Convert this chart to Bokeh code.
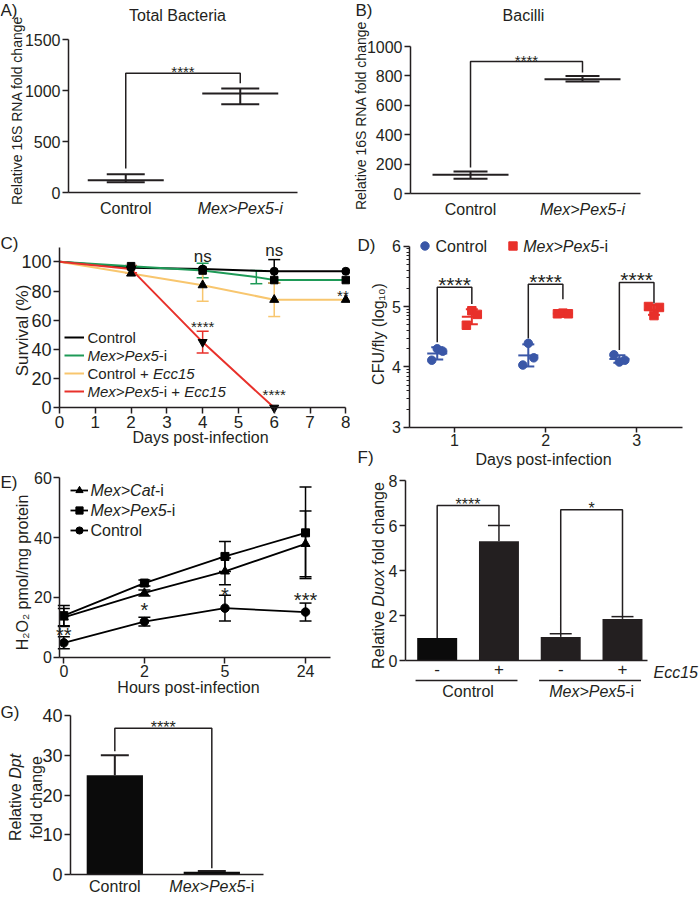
import math
import numpy as np
from bokeh.plotting import figure
from bokeh.models import (Range1d, FixedTicker, Label, Whisker, TeeHead, ColumnDataSource,
                          Legend, LegendItem)
from bokeh.layouts import row, column
from bokeh.core.properties import value
from bokeh.embed import file_html
from bokeh.resources import INLINE

# ---------------- data ----------------
a_groups = ["Control", "Mex>Pex5-i"]
a_mean = [120, 970]
a_upper = [180, 1020]
a_lower = [100, 865]
a_sig = [235, 1170, 1070]          # left end, bracket level, right end

b_groups = ["Control", "Mex>Pex5-i"]
b_mean = [127, 778]
b_upper = [150, 800]
b_lower = [100, 762]
b_sig = [177, 898, 823]

c_days = [0, 2, 4, 6, 8]
c_control = [100, 96, 95, 93.5, 93.5]
c_control_err = [0, 0, 0, 8, 0]
c_pex_days = [0, 2, 4, 5.5, 6, 8]
c_pex = [100, 97, 94, 89.5, 87.5, 87.5]
c_pex_err = [0, 0, 5, 4.5, 0, 0]
c_ecc_ctrl = [100, 92, 84, 74, 74]
c_ecc_ctrl_err = [0, 0, 11, 11.5, 0]
c_ecc_pex_days = [0, 2, 4, 6]
c_ecc_pex = [100, 95, 45, 0]
c_ecc_pex_err = [0, 2.5, 7.5, 0]
c_notes = ["ns", "ns", "**", "****", "****"]
c_note_x = [4, 6, 7.92, 4, 6]
c_note_y = [103.5, 107.5, 79.5, 58, 11.5]

d_days = [1, 2, 3]
d_control = [[4.11, 4.30, 4.26], [4.03, 4.39, 4.15], [4.20, 4.08, 4.11]]
d_pex = [[4.69, 4.93, 4.87], [4.88, 4.89, 4.88], [5.00, 4.85, 4.985]]
d_sig_top = [5.32, 5.37, 5.40]
d_sig_left = [4.41, 4.47, 4.28]
d_sig_right = [5.04, 5.12, 5.05]

e_hours = ["0", "2", "5", "24"]
e_cat = [13.3, 21.5, 28.7, 37.9]
e_cat_err = [3.0, 1.0, 4.5, 11.0]
e_pex = [13.9, 24.8, 33.7, 41.6]
e_pex_err = [3.4, 1.0, 5.0, 15.3]
e_control = [4.8, 11.9, 16.4, 15.1]
e_control_err = [2.0, 1.5, 4.3, 3.0]
e_sig = ["**", "*", "*", "***"]
e_sig_y = [8.9, 17.3, 22.3, 20.6]

f_groups = ["Control", "Mex>Pex5-i"]
f_ecc = ["-", "+", "-", "+"]
f_vals = [1.0, 5.3, 1.05, 1.85]
f_err = [0.0, 0.7, 0.14, 0.1]
f_sig = ["****", "*"]
f_sig_top = [6.89, 6.7]
f_sig_left = [1.0, 1.19]
f_sig_right = [6.0, 1.95]

g_groups = ["Control", "Mex>Pex5-i"]
g_vals = [25.0, 0.7]
g_err = [5.0, 0.15]
g_sig = ["****"]
g_sig_top = [36.8]
g_sig_left = [31.0]
g_sig_right = [1.6]

# ---------------- style helpers ----------------
FONT = "Liberation Sans"
INK = "#231F20"
CW = {' ': 278, '(': 333, ')': 333, '*': 389, '+': 584, '-': 333, '/': 278, '>': 584, '%': 889,
      'A': 667, 'B': 667, 'C': 722, 'D': 722, 'E': 667, 'F': 611, 'H': 722, 'M': 833, 'N': 722,
      'O': 778, 'P': 667, 'R': 722, 'S': 667, 'T': 611, 'U': 722,
      'a': 556, 'c': 500, 'd': 556, 'e': 556, 'f': 278, 'g': 556, 'h': 556, 'i': 222, 'l': 222,
      'm': 833, 'n': 556, 'o': 556, 'p': 556, 'r': 333, 's': 500, 't': 278, 'u': 556, 'v': 500,
      'x': 500, 'y': 500}


def tw(s, size):
    return sum(CW.get(ch, 556) for ch in s) * size / 1000.0


class Panel:
    """A figure whose frame fills the whole canvas; axes are pinned with fixed_location."""

    def __init__(self, fig_box, axis_box, xd, yd):
        X, Y, W, H = fig_box
        l, t, r, b = axis_box
        self.X, self.Y, self.W, self.H = X, Y, W, H
        self.l, self.t = l, t
        self.xd, self.yd = xd, yd
        self.sx = (r - l) / (xd[1] - xd[0])
        self.sy = (b - t) / (yd[1] - yd[0])
        x0 = xd[0] - (l - X) / self.sx
        x1 = xd[1] + (X + W - r) / self.sx
        y1 = yd[1] + (t - Y) / self.sy
        y0 = yd[0] - (Y + H - b) / self.sy
        p = figure(width=W, height=H, x_range=Range1d(x0, x1), y_range=Range1d(y0, y1),
                   min_border=0, min_border_left=0, min_border_right=0,
                   min_border_top=0, min_border_bottom=0,
                   output_backend="svg", toolbar_location=None, tools="")
        p.xgrid.visible = False
        p.ygrid.visible = False
        p.outline_line_color = None
        p.background_fill_color = "white"
        p.border_fill_color = "white"
        p.xaxis[0].fixed_location = yd[0]
        p.xaxis[0].bounds = xd
        p.yaxis[0].fixed_location = xd[0]
        p.yaxis[0].bounds = yd
        self.p = p

    def to_data(self, px, py):
        return self.xd[0] + (px - self.l) / self.sx, self.yd[1] - (py - self.t) / self.sy

    def to_px(self, x, y):
        return self.l + (x - self.xd[0]) * self.sx, self.t + (self.yd[1] - y) * self.sy

    def legend_loc(self, left_px, bottom_px):
        return (left_px - self.X, self.Y + self.H - bottom_px)

    def text(self, s, px, py, size, align="center", italic=False, angle=0.0, color=INK):
        x, y = self.to_data(px, py)
        self.p.add_layout(Label(x=x, y=y, text=s, text_font=FONT, text_font_size=f"{size}px",
                                text_font_style="italic" if italic else "normal",
                                text_align=align, text_baseline="middle", angle=angle,
                                text_color=color))

    def rich(self, segs, px, py, size, align="left", vertical=False):
        total = sum(tw(t, size) for t, _ in segs)
        pos = -total / 2 if align == "center" else 0.0
        for t, it in segs:
            lead = tw(t[:len(t) - len(t.lstrip())], size)
            s = t.strip()
            if s:
                if vertical:
                    self.text(s, px, py - (pos + lead), size, "left", it, math.pi / 2)
                else:
                    self.text(s, px + pos + lead, py, size, "left", it)
            pos += tw(t, size)

    def note(self, s, x, y, size):
        px, py = self.to_px(x, y)
        if s.startswith("*"):
            py += 0.24 * size
        self.text(s, px, py, size)

    def stars_above(self, s, x, y, size, gap):
        px, py = self.to_px(x, y)
        self.text(s, px, py - gap + 0.24 * size, size)

    def xpx(self, x):
        return self.to_px(x, self.yd[0])[0]


def style_axis(ax, size=16, ticks=None, tick_out=6, overrides=None, minor=None):
    ax.axis_line_color = INK
    ax.axis_line_width = 1.5
    ax.major_tick_line_color = INK
    ax.major_tick_line_width = 1.5
    ax.major_tick_in = 0
    ax.major_tick_out = tick_out
    ax.major_label_text_font = FONT
    ax.major_label_text_font_size = f"{size}px"
    ax.major_label_text_color = INK
    ax.major_label_standoff = 2
    if ticks is not None:
        ax.ticker = FixedTicker(ticks=ticks, minor_ticks=minor or [])
    if minor:
        ax.minor_tick_line_color = INK
        ax.minor_tick_in = 0
        ax.minor_tick_out = 3
        ax.minor_tick_line_width = 1
    else:
        ax.minor_tick_line_color = None
    if overrides:
        ax.major_label_overrides = overrides


def bracket(p, x0, x1, left, top, right, width=1.5):
    p.line([x0, x0, x1, x1], [left, top, top, right], line_color=INK, line_width=width)


def icon_legend(p, items, loc, gw, gh):
    p.add_layout(Legend(items=items, location=loc, orientation="vertical",
                        glyph_width=gw, glyph_height=gh, label_width=0, label_height=gh,
                        label_standoff=0, spacing=0, padding=0, margin=0,
                        border_line_color=None, background_fill_alpha=0,
                        label_text_font_size="1px"))


def mean_err_panel(P, groups, mean, upper, lower, sig, cap, yticks, title, letter,
                   ytitle, title_xy, letter_xy, ytitle_xy, xlab_y):
    p = P.p
    style_axis(p.xaxis[0], ticks=[], tick_out=0)
    style_axis(p.yaxis[0], size=16, ticks=yticks)
    xs = list(range(len(groups)))
    src = ColumnDataSource(dict(x=xs, m=mean, u=upper, lo=lower))
    bracket(p, xs[0], xs[1], sig[0], sig[1], sig[2])
    p.add_layout(Whisker(source=src, base="x", upper="u", lower="lo", line_color=INK, line_width=2,
                         upper_head=TeeHead(size=cap, line_color=INK, line_width=2),
                         lower_head=TeeHead(size=cap, line_color=INK, line_width=2)))
    p.scatter("x", "m", source=src, marker="dash", size=76, line_color=INK, line_width=2)
    P.stars_above("****", (xs[0] + xs[1]) / 2, sig[1], 15, 5)
    P.text(title, title_xy[0], title_xy[1], 16)
    P.text(letter, letter_xy[0], letter_xy[1], 17, align="left")
    P.text(ytitle, ytitle_xy[0], ytitle_xy[1], 14, angle=math.pi / 2)
    P.text(groups[0], P.xpx(xs[0]), xlab_y, 16)
    P.text(groups[1], P.xpx(xs[1]), xlab_y, 16, italic=True)


# ---------------- Panel A ----------------
A = Panel((0, 0, 350, 222), (68, 39, 297, 192), (-0.5, 1.5), (0, 1500))
mean_err_panel(A, a_groups, a_mean, a_upper, a_lower, a_sig, 38, [0, 500, 1000, 1500],
               "Total Bacteria", "A)", "Relative 16S RNA fold change",
               (177, 15), (0, 10), (16, 110), 208)

# ---------------- Panel B ----------------
B = Panel((350, 0, 350, 222), (410, 46, 640, 193), (-0.536, 1.518), (0, 1000))
mean_err_panel(B, b_groups, b_mean, b_upper, b_lower, b_sig, 34, [0, 200, 400, 600, 800, 1000],
               "Bacilli", "B)", "Relative 16S RNA fold change",
               (523, 15), (355, 10), (360, 115), 209)

# ---------------- Panel C ----------------
C = Panel((0, 222, 350, 230), (59, 246.7, 345.3, 407.3), (0, 8), (0, 110))
pc = C.p
style_axis(pc.xaxis[0], size=17, ticks=list(range(9)))
style_axis(pc.yaxis[0], size=18, ticks=[0, 20, 40, 60, 80, 100])
GREEN, YELLOW, RED = "#1E9A57", "#F8C66E", "#E8312B"
c_series = [
    ("Control", c_days, c_control, c_control_err, "black", "circle", 8),
    ("Mex>Pex5-i", c_pex_days, c_pex, c_pex_err, GREEN, "square", 7.5),
    ("Control + Ecc15", c_days, c_ecc_ctrl, c_ecc_ctrl_err, YELLOW, "triangle", 9),
    ("Mex>Pex5-i + Ecc15", c_ecc_pex_days, c_ecc_pex, c_ecc_pex_err, RED, "inverted_triangle", 9),
]
c_lines = []
for name, xs, ys, es, col, mk, sz in c_series:
    c_lines.append(pc.line(xs, ys, line_color=col, line_width=2))
for name, xs, ys, es, col, mk, sz in c_series:
    sel = [i for i, e in enumerate(es) if e > 0]
    src = ColumnDataSource(dict(x=[xs[i] for i in sel],
                                u=[ys[i] + es[i] for i in sel],
                                lo=[ys[i] - es[i] for i in sel]))
    pc.add_layout(Whisker(source=src, base="x", upper="u", lower="lo", line_color=col, line_width=1.5,
                          upper_head=TeeHead(size=12, line_color=col, line_width=1.5),
                          lower_head=TeeHead(size=12, line_color=col, line_width=1.5)))
for name, xs, ys, es, col, mk, sz in c_series:
    sel = [i for i, x in enumerate(xs) if x > 0 and float(x).is_integer()]
    pc.scatter([xs[i] for i in sel], [ys[i] for i in sel], marker=mk, size=sz,
               fill_color="black", line_color="black")
c_items = []
for (name, xs, ys, es, col, mk, sz), lr in zip(c_series, c_lines):
    dummy = pc.scatter(x=[], y=[], marker=mk, size=sz, fill_color=col, line_color=col)
    c_items.append(LegendItem(label=value(" "), renderers=[lr, dummy]))
icon_legend(pc, c_items, C.legend_loc(64, 336.5 - 9 + 18 * len(c_items)), 20, 18)
c_leg_segs = [
    [("Control", False)],
    [("Mex>Pex5", True), ("-i", False)],
    [("Control + ", False), ("Ecc15", True)],
    [("Mex>Pex5", True), ("-i + ", False), ("Ecc15", True)],
]
for i, segs in enumerate(c_leg_segs):
    C.rich(segs, 87, 336.5 + 18 * i, 15)
for s, x, y in zip(c_notes, c_note_x, c_note_y):
    C.note(s, x, y, 17 if s == "ns" else 15)
C.text("C)", 0, 243, 17, align="left")
C.text("Days post-infection", 200, 437, 16)
C.text("Survival (%)", 22, 330, 17, angle=math.pi / 2)

# ---------------- Panel D ----------------
D = Panel((350, 222, 350, 248), (408.5, 245.7, 681.7, 426.7), (0.5, 3.5), (3, 6))
pd_ = D.p
d_minor = [d + math.log10(k) for d in (3, 4, 5) for k in range(2, 10)]
style_axis(pd_.xaxis[0], size=16, ticks=[1, 2, 3], tick_out=5)
style_axis(pd_.yaxis[0], size=16, ticks=[3, 4, 5, 6], minor=d_minor)
BLUE, DRED = "#3A57A7", "#E8302A"
jit = [-0.06, 0.0, 0.06]
offs = [-0.19, 0.19]
for k, day in enumerate(d_days):
    bracket(pd_, day + offs[0], day + offs[1], d_sig_left[k], d_sig_top[k], d_sig_right[k])
    D.stars_above("****", day, d_sig_top[k], 21, 7.5)
d_rend = []
for g, (groups, col, mk) in enumerate([(d_control, BLUE, "circle"), (d_pex, DRED, "square")]):
    px_, py_, mx, mm, mu, ml = [], [], [], [], [], []
    for day, vals in zip(d_days, groups):
        for j, v in zip(jit, vals):
            px_.append(day + offs[g] + j)
            py_.append(v)
        m = float(np.mean(vals))
        sd = float(np.std(vals, ddof=1))
        mx.append(day + offs[g])
        mm.append(m)
        mu.append(m + sd)
        ml.append(m - sd)
    src = ColumnDataSource(dict(x=mx, m=mm, u=mu, lo=ml))
    pd_.add_layout(Whisker(source=src, base="x", upper="u", lower="lo", line_color=col, line_width=2,
                           upper_head=TeeHead(size=12, line_color=col, line_width=2),
                           lower_head=TeeHead(size=12, line_color=col, line_width=2)))
    d_rend.append(pd_.scatter(px_, py_, marker=mk, size=8.5, fill_color=col, line_color=col))
    pd_.scatter("x", "m", source=src, marker="dash", size=20, line_color=col, line_width=2)
for r, lx in zip(d_rend, [413.5, 501.8]):
    icon_legend(pd_, [LegendItem(label=value(" "), renderers=[r])], D.legend_loc(lx, 256.2), 21, 21)
D.text("Control", 435, 245.7, 16, align="left")
D.rich([("Mex>Pex5", True), ("-i", False)], 522.7, 245.7, 16)
D.text("D)", 357, 245, 17, align="left")
D.text("F)", 357, 456.7, 17, align="left")
D.text("Days post-infection", 543, 459, 16)
D.text("CFU/fly (log\u2081\u2080)", 378, 333.5, 16, angle=math.pi / 2)

# ---------------- Panel E ----------------
E = Panel((0, 452, 350, 248), (59.3, 477.3, 330, 656.7), (-0.05, 3.31), (0, 60))
pe = E.p
ex = list(range(len(e_hours)))
style_axis(pe.xaxis[0], size=16, ticks=ex, overrides={i: h for i, h in zip(ex, e_hours)})
style_axis(pe.yaxis[0], size=16, ticks=[0, 20, 40, 60])
e_series = [
    ("Mex>Cat-i", e_cat, e_cat_err, "triangle", 9),
    ("Mex>Pex5-i", e_pex, e_pex_err, "square", 8),
    ("Control", e_control, e_control_err, "circle", 8.5),
]
e_items = []
for name, ys, es, mk, sz in e_series:
    lr = pe.line(ex, ys, line_color="black", line_width=1.8)
    src = ColumnDataSource(dict(x=ex, u=[y + e for y, e in zip(ys, es)], lo=[y - e for y, e in zip(ys, es)]))
    pe.add_layout(Whisker(source=src, base="x", upper="u", lower="lo", line_color="black", line_width=1.5,
                          upper_head=TeeHead(size=12, line_color="black", line_width=1.5),
                          lower_head=TeeHead(size=12, line_color="black", line_width=1.5)))
    sr = pe.scatter(ex, ys, marker=mk, size=sz, fill_color="black", line_color="black")
    e_items.append(LegendItem(label=value(" "), renderers=[lr, sr]))
icon_legend(pe, e_items, E.legend_loc(70, 480 + 20 * len(e_items)), 18, 20)
e_leg_segs = [
    [("Mex>Cat", True), ("-i", False)],
    [("Mex>Pex5", True), ("-i", False)],
    [("Control", False)],
]
for i, segs in enumerate(e_leg_segs):
    E.rich(segs, 90, 490 + 20 * i, 16)
for s, x, y in zip(e_sig, ex, e_sig_y):
    E.note(s, x, y, 20)
E.text("E)", 0, 482, 17, align="left")
E.text("Hours post-infection", 188, 687, 16)
E.text("H\u2082O\u2082 pmol/mg protein", 22, 572, 16, angle=math.pi / 2)

# ---------------- Panel F ----------------
F = Panel((350, 470, 350, 230), (405, 480, 646.7, 660), (-0.513, 3.40), (0, 8))
pf = F.p
fx_ = list(range(len(f_vals)))
style_axis(pf.xaxis[0], ticks=[], tick_out=0)
style_axis(pf.yaxis[0], size=16, ticks=[0, 2, 4, 6, 8])
f_colors = ["#0B0B0B", "#231F20", "#231F20", "#231F20"]
for k in range(len(f_sig)):
    i0, i1 = 2 * k, 2 * k + 1
    bracket(pf, i0, i1, f_sig_left[k], f_sig_top[k], f_sig_right[k])
    F.stars_above(f_sig[k], (i0 + i1) / 2, f_sig_top[k], 16, 5)
pf.vbar(x=fx_, top=f_vals, width=0.647, fill_color=f_colors, line_color=None)
sel = [i for i, e in enumerate(f_err) if e > 0]
src = ColumnDataSource(dict(x=[fx_[i] for i in sel], u=[f_vals[i] + f_err[i] for i in sel],
                            lo=[f_vals[i] for i in sel]))
pf.add_layout(Whisker(source=src, base="x", upper="u", lower="lo", line_color=INK, line_width=1.5,
                      upper_head=TeeHead(size=22, line_color=INK, line_width=1.5), lower_head=None))
for i, s in enumerate(f_ecc):
    F.text(s, F.xpx(fx_[i]), 668, 17)
F.text("Ecc15", 653, 672, 16, align="left", italic=True)
f_group_segs = [[("Control", False)], [("Mex>Pex5", True), ("-i", False)]]
uy = F.to_data(0, 680)[1]
for g in range(len(f_groups)):
    i0, i1 = 2 * g, 2 * g + 1
    pf.line([i0 - 0.35, i1 + 0.3], [uy, uy], line_color=INK, line_width=1.5)
    F.rich(f_group_segs[g], F.xpx((i0 + i1) / 2), 691, 16, align="center")
F.rich([("Relative ", False), ("Duox", True), (" fold change", False)], 378, 575, 16,
       align="center", vertical=True)

# ---------------- Panel G ----------------
G = Panel((0, 700, 350, 196), (70, 715, 263.3, 874), (-0.457, 1.536), (0, 40))
pg = G.p
gx = list(range(len(g_vals)))
style_axis(pg.xaxis[0], ticks=[], tick_out=0)
style_axis(pg.yaxis[0], size=18, ticks=[0, 10, 20, 30, 40])
bracket(pg, gx[0], gx[1], g_sig_left[0], g_sig_top[0], g_sig_right[0])
G.stars_above(g_sig[0], (gx[0] + gx[1]) / 2, g_sig_top[0], 16, 5)
pg.vbar(x=gx, top=g_vals, width=0.58, fill_color="#0B0B0B", line_color=None)
src = ColumnDataSource(dict(x=gx, u=[v + e for v, e in zip(g_vals, g_err)], lo=g_vals))
pg.add_layout(Whisker(source=src, base="x", upper="u", lower="lo", line_color=INK, line_width=2,
                      upper_head=TeeHead(size=28, line_color=INK, line_width=2), lower_head=None))
G.text(g_groups[0], G.xpx(gx[0]), 886, 16)
G.rich([("Mex>Pex5", True), ("-i", False)], G.xpx(gx[1]), 886, 16, align="center")
G.rich([("Relative ", False), ("Dpt", True)], 14.5, 797, 16, align="center", vertical=True)
G.text("fold change", 35.5, 797, 16, angle=math.pi / 2)
G.text("G)", 0, 712, 17, align="left")

layout = row(column(A.p, C.p, E.p, G.p), column(B.p, D.p, F.p))
open("out.html", "w").write(file_html(layout, INLINE))
